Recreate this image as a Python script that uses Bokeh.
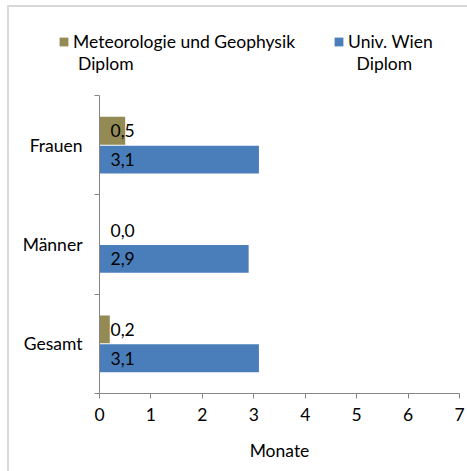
from bokeh.plotting import figure
from bokeh.layouts import column
from bokeh.models import Range1d, FixedTicker, Legend, LegendItem, ColumnDataSource
from bokeh.core.properties import value
from bokeh.embed import file_html
from bokeh.resources import INLINE

# ---- data ----
categories = ["Gesamt", "Männer", "Frauen"]
series_lines = [["Meteorologie und Geophysik", "Diplom"], ["Univ. Wien", "Diplom"]]
meteo_values = [0.2, 0.0, 0.5]
uni_values = [3.1, 2.9, 3.1]
x_ticks = [0, 1, 2, 3, 4, 5, 6, 7]
x_title = "Monate"

FONT = "Lato"
FS = "17.5px"
OLIVE = "#948A54"
BLUE = "#4A7EBB"
AXIS = "#868686"

centers = [i + 0.5 for i in range(len(categories))]
bar_h = 0.28
off = 0.145

def fmt(v):
    return f"{v:.1f}".replace(".", ",")

src_m = ColumnDataSource(dict(y=[c + off for c in centers], v=meteo_values,
                              lab=[fmt(v) for v in meteo_values]))
src_u = ColumnDataSource(dict(y=[c - off for c in centers], v=uni_values,
                              lab=[fmt(v) for v in uni_values]))

W = 458
H_LEG = 80
H_MAIN = 384

# ---------- legend strip ----------
lf = figure(width=W, height=H_LEG, output_backend="svg", toolbar_location=None,
            x_range=Range1d(0, 1), y_range=Range1d(0, 1),
            x_axis_type=None, y_axis_type=None,
            min_border_left=0, min_border_right=0, min_border_top=0,
            min_border_bottom=0)
lf.frame_align = False
lf.outline_line_color = None
lf.xgrid.visible = False
lf.ygrid.visible = False
lr_m = lf.hbar(y="y", left=0, right="v", height=bar_h, source=src_m,
               fill_color=OLIVE, line_color=None, visible=False)
lr_u = lf.hbar(y="y", left=0, right="v", height=bar_h, source=src_u,
               fill_color=BLUE, line_color=None, visible=False)
lr_blank = lf.hbar(y="y", left=0, right="v", height=bar_h, source=src_u,
                   fill_color=None, line_color=None, visible=False)

common = dict(orientation="horizontal", glyph_width=11, glyph_height=11,
              label_standoff=4, label_text_font=FONT, label_text_font_size=FS,
              label_text_color="black", border_line_color=None,
              background_fill_alpha=0, padding=0, margin=0)
legend1 = Legend(items=[LegendItem(label=series_lines[0][0], renderers=[lr_m]),
                        LegendItem(label=series_lines[1][0], renderers=[lr_u])],
                 location=(49, 35), spacing=38, **common)
legend2 = Legend(items=[LegendItem(label=series_lines[0][1], renderers=[lr_blank]),
                        LegendItem(label=series_lines[1][1], renderers=[lr_blank])],
                 location=(54, 13), spacing=208, **common)
lf.add_layout(legend1, "center")
lf.add_layout(legend2, "center")

# ---------- main chart ----------
p = figure(width=W, height=H_MAIN, output_backend="svg", toolbar_location=None,
           x_range=Range1d(0, 7), y_range=Range1d(0, len(categories)),
           min_border_left=90, min_border_right=8, min_border_top=8,
           min_border_bottom=78)
p.frame_align = False
p.outline_line_color = None
p.xgrid.visible = False
p.ygrid.visible = False

p.hbar(y="y", left=0, right="v", height=bar_h, source=src_m,
       fill_color=OLIVE, line_color=None)
p.hbar(y="y", left=0, right="v", height=bar_h, source=src_u,
       fill_color=BLUE, line_color=None)

for src in (src_m, src_u):
    p.text(x=0, y="y", text="lab", source=src, x_offset=11,
           text_align="left", text_baseline="middle",
           text_font=value(FONT), text_font_size=FS, text_color="black")

xa = p.xaxis[0]
xa.ticker = FixedTicker(ticks=x_ticks, minor_ticks=[])
xa.axis_line_color = AXIS
xa.major_tick_line_color = AXIS
xa.major_tick_out = 5
xa.major_tick_in = 0
xa.minor_tick_line_color = None
xa.major_label_standoff = 9
xa.major_label_text_font = FONT
xa.major_label_text_font_size = FS
xa.major_label_text_color = "black"
xa.axis_label = x_title
xa.axis_label_text_font = FONT
xa.axis_label_text_font_size = FS
xa.axis_label_text_font_style = "normal"
xa.axis_label_text_color = "black"
xa.axis_label_standoff = 16

ya = p.yaxis[0]
ya.ticker = FixedTicker(ticks=centers, minor_ticks=list(range(len(categories) + 1)))
ya.major_label_overrides = {c: name for c, name in zip(centers, categories)}
ya.axis_line_color = AXIS
ya.major_tick_line_color = None
ya.major_tick_out = 0
ya.major_tick_in = 0
ya.minor_tick_line_color = AXIS
ya.minor_tick_out = 5
ya.minor_tick_in = 0
ya.major_label_standoff = 12
ya.major_label_text_font = FONT
ya.major_label_text_font_size = FS
ya.major_label_text_color = "black"

layout = column(lf, p, spacing=0,
                styles={"margin-left": "7px", "margin-top": "5px",
                        "border-left": "2px solid #d9d9d9",
                        "border-top": "2px solid #d9d9d9"})

open("out.html", "w").write(file_html(layout, INLINE))
